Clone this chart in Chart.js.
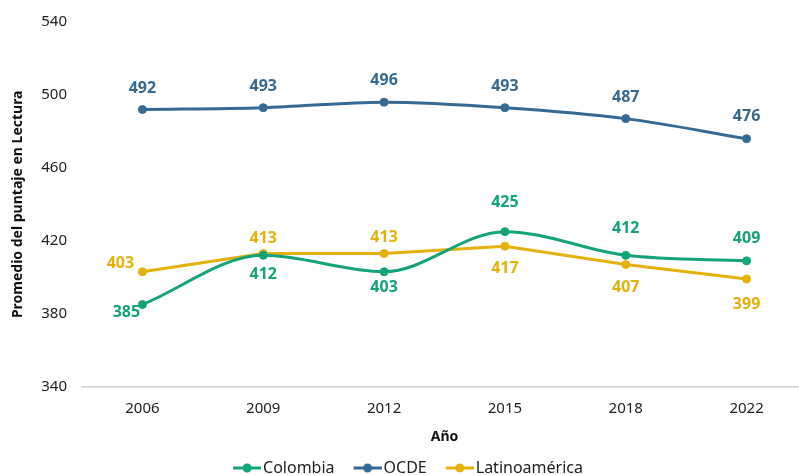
<!DOCTYPE html>
<html><head><meta charset="utf-8">
<script src="https://cdn.jsdelivr.net/npm/chart.js@4"></script>
<style>html,body{margin:0;padding:0;overflow:hidden;background:#fff}#wrap{width:812px;height:486px;position:relative}</style>
</head><body><div id="wrap"><canvas id="c"></canvas></div>
<script>
const years = ['2006','2009','2012','2015','2018','2022'];
const colombia = [385, 412, 403, 425, 412, 409];
const ocde = [492, 493, 496, 493, 487, 476];
const latam = [403, 413, 413, 417, 407, 399];
const yTicks = [340, 380, 420, 460, 500, 540];

const C_COL = '#15a37a', C_OCDE = '#376a93', C_LAT = '#e4b20a';
const FONT = "'Noto Sans', 'Open Sans', sans-serif";

// label placement (style only): [dx, dy]
const place = {
  0: [[-16,8],[0,19],[0,16],[0,-29],[0,-27],[0,-22]],
  1: [[0,-21],[0,-21],[0,-22],[0,-21],[0,-21],[0,-22]],
  2: [[-22,-8],[0,-15],[0,-16],[0,22],[0,23],[0,25]]
};

function icon(color){
  const cv=document.createElement('canvas');cv.width=40;cv.height=10;
  const g=cv.getContext('2d');g.strokeStyle=color;g.lineWidth=3;
  g.beginPath();g.moveTo(12,5);g.lineTo(40,5);g.stroke();
  g.fillStyle=color;g.beginPath();g.arc(26,5,4.5,0,Math.PI*2);g.fill();
  return cv;
}

const labelPlugin = {
  id:'vlabels',
  afterDatasetsDraw(chart){
    const ctx=chart.ctx;
    chart.data.datasets.forEach((ds,i)=>{
      const meta=chart.getDatasetMeta(i);
      meta.data.forEach((pt,j)=>{
        const [dx,dy]=place[i][j];
        ctx.save();
        ctx.font="bold 16px "+FONT;
        ctx.fillStyle=ds.borderColor;
        ctx.textAlign='center';ctx.textBaseline='middle';
        ctx.fillText(String(ds.data[j]),pt.x+dx,pt.y+dy);
        ctx.restore();
      });
    });
  }
};

const mk=(label,data,color,extra)=>Object.assign({label,data,borderColor:color,backgroundColor:color,
  pointBackgroundColor:color,pointBorderColor:color,pointRadius:4,pointHoverRadius:4,pointBorderWidth:1,borderWidth:3,
  pointStyle:'circle'},extra);

new Chart(document.getElementById('c'),{
  type:'line',
  data:{labels:years,datasets:[
    mk('Colombia',colombia,C_COL,{cubicInterpolationMode:'monotone'}),
    mk('OCDE',ocde,C_OCDE,{cubicInterpolationMode:'monotone'}),
    mk('Latinoamérica',latam,C_LAT,{tension:0})
  ]},
  plugins:[labelPlugin],
  options:{
    responsive:true,maintainAspectRatio:false,animation:false,
    layout:{padding:{top:22,left:0,right:2,bottom:0}},
    plugins:{
      legend:{position:'bottom',labels:{
        font:{family:FONT,size:16},color:'#222',boxWidth:28,padding:13,
        usePointStyle:true,pointStyleWidth:28,
        generateLabels(chart){
          return chart.data.datasets.map((d,i)=>({text:d.label,fillStyle:d.borderColor,strokeStyle:d.borderColor,
            pointStyle:icon(d.borderColor),datasetIndex:i,hidden:false,lineWidth:0,fontColor:'#222'}));
        }
      }},
      tooltip:{enabled:false}
    },
    scales:{
      x:{offset:true,grid:{display:false,drawTicks:false},border:{display:true,color:'#cfcfcf',width:1.5},
        afterFit(ax){ax.height=60.4;},
        ticks:{color:'#222',font:{family:FONT,size:15},padding:13},
        title:{display:true,text:'Año',color:'#111',font:{family:FONT,size:14,weight:'bold'},padding:{top:1,bottom:2}}},
      y:{min:340,max:540,grid:{display:false},border:{display:false},
        afterBuildTicks(ax){ax.ticks=yTicks.map(v=>({value:v}));},
        afterFit(ax){ax.width=82;},
        ticks:{color:'#222',font:{family:FONT,size:15},padding:7},
        title:{display:true,text:'Promedio del puntaje en Lectura',color:'#111',font:{family:FONT,size:14,weight:'bold'},padding:{top:10,bottom:10}}}
    }
  }
});
</script></body></html>
